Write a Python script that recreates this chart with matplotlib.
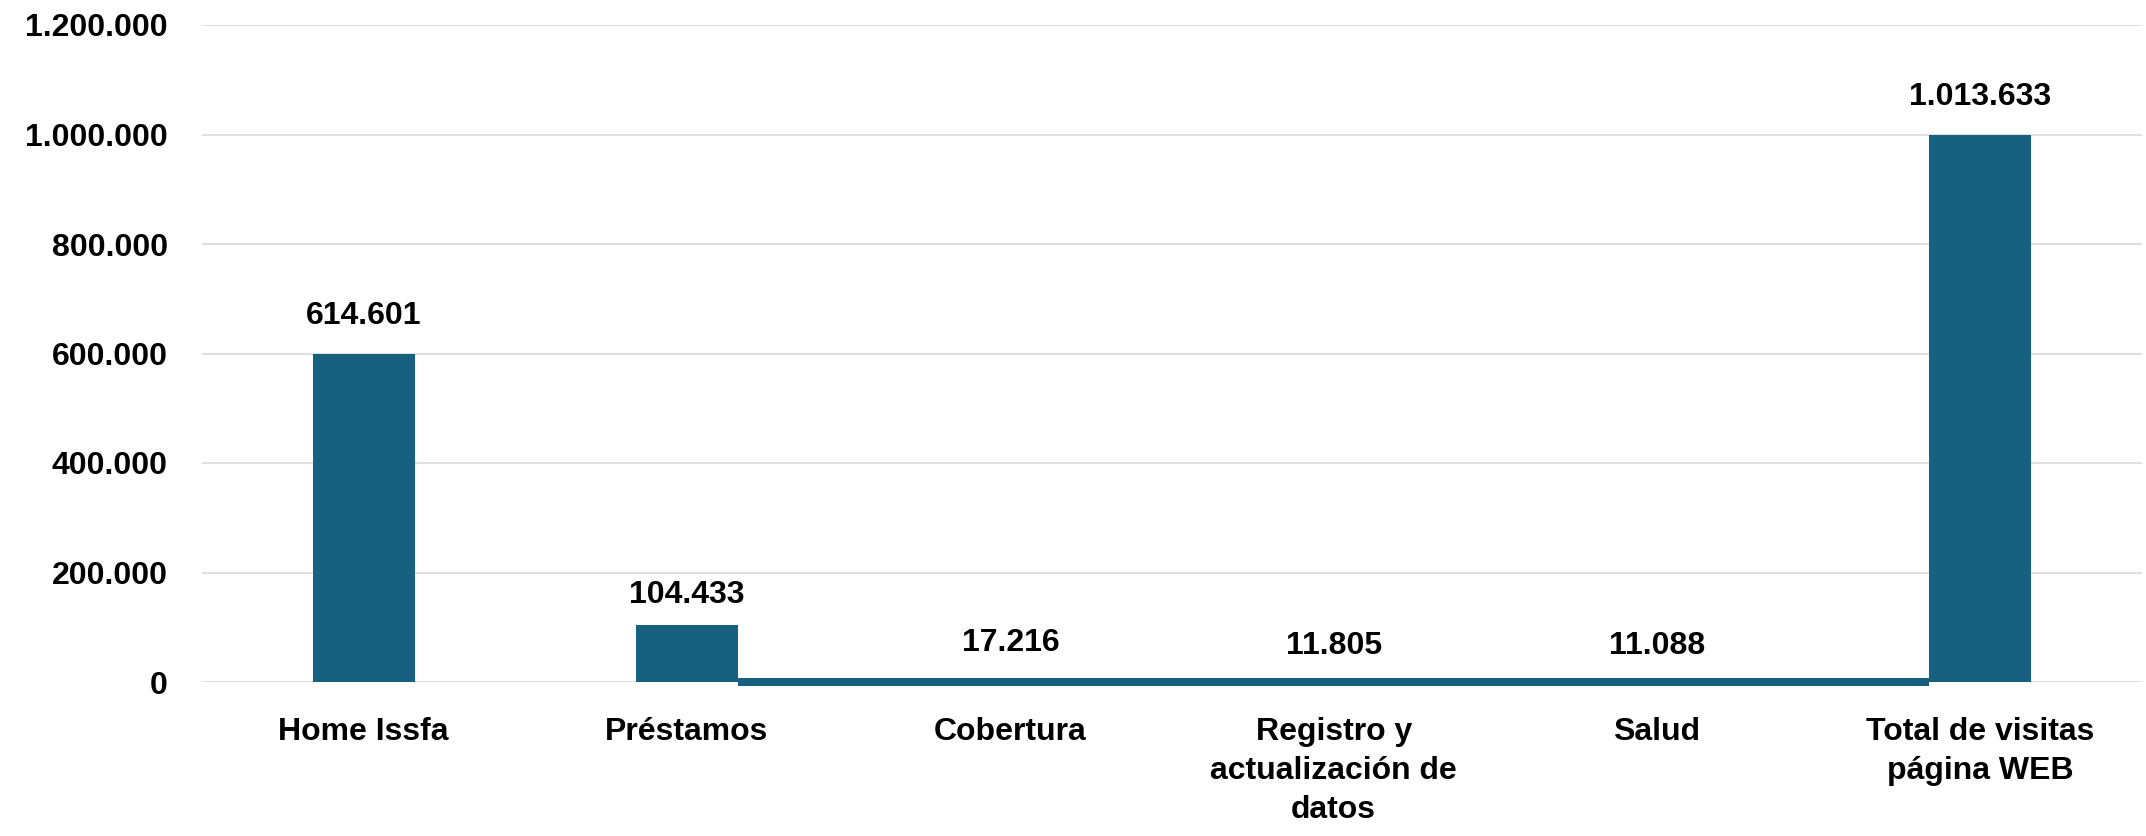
import matplotlib
matplotlib.use("Agg")
import matplotlib.pyplot as plt
import numpy as np

# ---- data ----
categories = ["Home Issfa", "Préstamos", "Cobertura",
              "Registro y\nactualización de\ndatos", "Salud",
              "Total de visitas\npágina WEB"]
values = [614601, 104433, 17216, 11805, 11088, 1013633]
# heights of the columns as they appear in the picture
drawn_heights = [600000, 104433, None, None, None, 1000000]
value_labels = ["614.601", "104.433", "17.216", "11.805", "11.088", "1.013.633"]
yticks = [0, 200000, 400000, 600000, 800000, 1000000, 1200000]
ytick_labels = ["0", "200.000", "400.000", "600.000", "800.000", "1.000.000", "1.200.000"]

BAR = "#17607f"
GRID = "#d9d9d9"
FONT = ["Liberation Sans", "DejaVu Sans"]
FS = 23

plt.rcParams["font.family"] = FONT
plt.rcParams["font.weight"] = "bold"

fig = plt.figure(figsize=(21.46, 8.36), dpi=100)
ax = fig.add_axes([202 / 2146, 1 - 682 / 836, 1940 / 2146, (682 - 25) / 836])

x = np.arange(len(categories))
width = 0.315

big_idx = [i for i, h in enumerate(drawn_heights) if h is not None]
ax.bar([x[i] for i in big_idx], [drawn_heights[i] for i in big_idx],
       width=width, color=BAR, zorder=3)

# the small categories appear as one flat band along the base line
small_idx = [i for i, h in enumerate(drawn_heights) if h is None]
x0 = x[small_idx[0] - 1] + width / 2
x1 = x[small_idx[-1] + 1] - width / 2
ax.hlines(0, x0, x1, colors=BAR, linewidth=8 * 0.72, zorder=3, clip_on=False)

for xi, v, lab in zip(x, values, value_labels):
    ax.annotate(lab, (xi, v), xytext=(0, 15.8), textcoords="offset points",
                ha="center", va="baseline", fontsize=FS, fontweight="bold",
                color="black", zorder=4)

ax.set_xlim(-0.5, len(categories) - 0.5)
ax.set_ylim(0, 1200000)
ax.set_yticks(yticks)
ax.set_yticklabels(ytick_labels, fontsize=FS, fontweight="bold")
ax.set_xticks(x)
ax.set_xticklabels(categories, fontsize=FS, fontweight="bold", linespacing=1.39)
ax.tick_params(axis="both", length=0)
ax.tick_params(axis="y", pad=24.5)
ax.tick_params(axis="x", pad=25)

ax.grid(axis="y", color=GRID, linewidth=1.2, zorder=0)
ax.set_axisbelow(True)
for s in ax.spines.values():
    s.set_visible(False)

fig.savefig("out.png", dpi=100, facecolor="white")
